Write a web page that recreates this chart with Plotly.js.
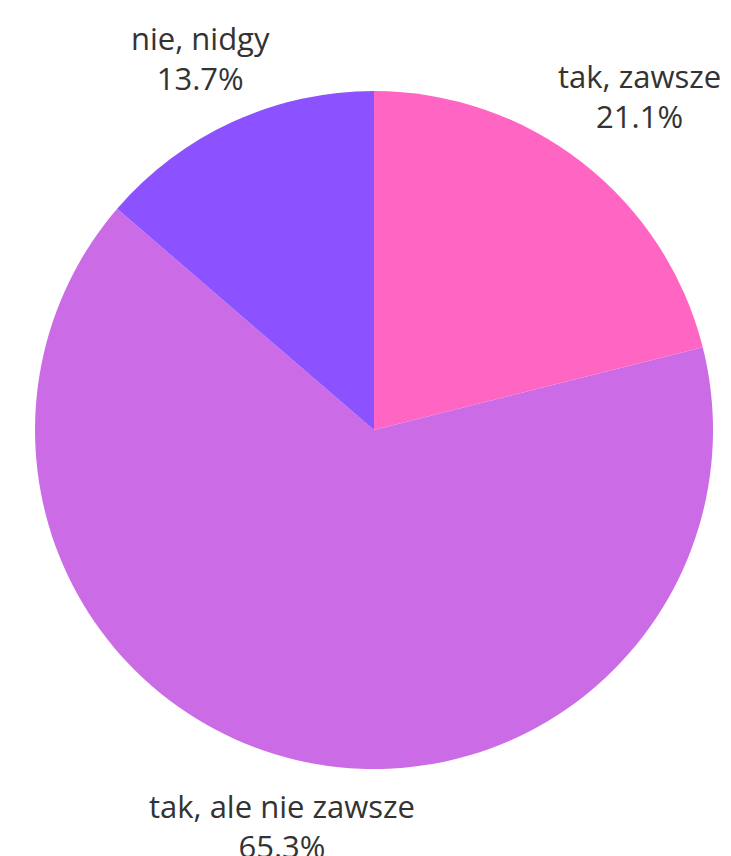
<!DOCTYPE html>
<html>
<head>
<meta charset="utf-8">
<script src="https://cdn.plot.ly/plotly-3.0.1.min.js"></script>
<style>html,body{margin:0;padding:0;background:#fff;}#chart{width:731px;height:856px;}</style>
</head>
<body>
<div id="chart"></div>
<script>
const categories = ["tak, zawsze", "tak, ale nie zawsze", "nie, nidgy"];
const values = [21.1, 65.3, 13.7];
const colors = ["#FF66C4", "#CB6CE6", "#8C52FF"];
// label placement (paper coordinates) for each category
const labelX = [0.8755, 0.3858, 0.2736];
const labelY = [0.8884, 0.035, 0.9322];

const trace = {
  type: "pie",
  labels: categories,
  values: values,
  sort: false,
  direction: "clockwise",
  rotation: 0,
  marker: {colors: colors, line: {width: 0}},
  textinfo: "none",
  hoverinfo: "none",
  showlegend: false,
  domain: {x: [0.0479, 0.9754], y: [0.1016, 0.8937]}
};

const annotations = categories.map((c, i) => ({
  xref: "paper", yref: "paper",
  x: labelX[i], y: labelY[i],
  xanchor: "center", yanchor: "middle",
  showarrow: false,
  align: "center",
  text: c + "<br>" + values[i].toFixed(1) + "%",
  font: {family: "Open Sans", size: 31, color: "#333333"}
}));

Plotly.newPlot("chart", [trace], {
  width: 731, height: 856,
  margin: {l: 0, r: 0, t: 0, b: 0},
  paper_bgcolor: "#ffffff",
  showlegend: false,
  annotations: annotations
}, {staticPlot: true});
</script>
</body>
</html>
